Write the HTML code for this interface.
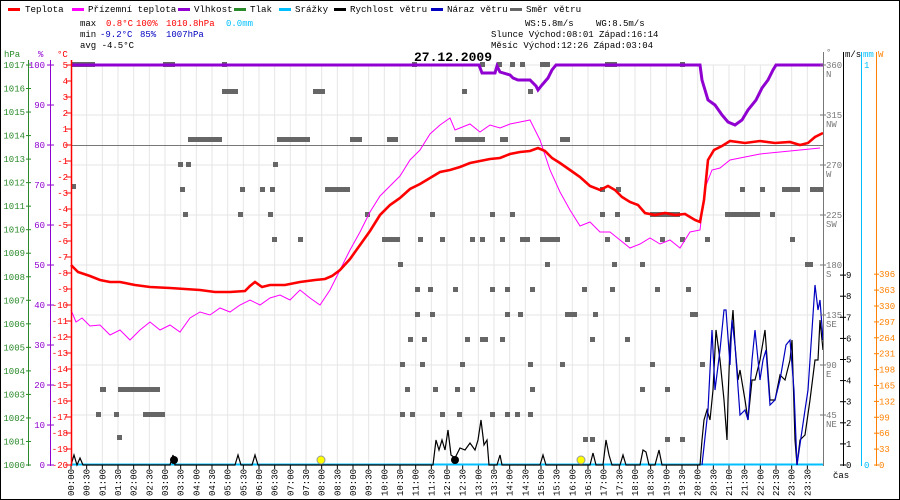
<!DOCTYPE html>
<html><head><meta charset="utf-8"><style>
body{margin:0;background:#fff}
svg{display:block;font-family:"Liberation Mono",monospace}
</style></head><body>
<svg width="900" height="500" viewBox="0 0 900 500" xmlns="http://www.w3.org/2000/svg">
<rect x="0.5" y="0.5" width="899" height="499" fill="#fff" stroke="#000"/>
<!-- legend -->
<g font-size="9.2" fill="#000">
<rect x="8" y="8" width="12" height="3" fill="#f00"/><text x="25" y="12">Teplota</text>
<rect x="72" y="8" width="12" height="3" fill="#f0f"/><text x="88" y="12">Přízemní teplota</text>
<rect x="178" y="8" width="12" height="3" fill="#9000d0"/><text x="194" y="12">Vlhkost</text>
<rect x="234" y="8" width="12" height="3" fill="#2a8a2a"/><text x="250" y="12">Tlak</text>
<rect x="279" y="8" width="12" height="3" fill="#00bfff"/><text x="295" y="12">Srážky</text>
<rect x="334" y="8" width="12" height="3" fill="#000"/><text x="350" y="12">Rychlost větru</text>
<rect x="431" y="8" width="12" height="3" fill="#0000c0"/><text x="447" y="12">Náraz větru</text>
<rect x="510" y="8" width="12" height="3" fill="#666"/><text x="526" y="12">Směr větru</text>
</g>
<g font-size="9">
<text x="80" y="26">max</text><text x="106" y="26" fill="#f00">0.8°C</text><text x="136" y="26" fill="#f00">100%</text><text x="166" y="26" fill="#f00">1010.8hPa</text><text x="226" y="26" fill="#00bfff">0.0mm</text>
<text x="80" y="37">min</text><text x="100" y="37" fill="#0000c0">-9.2°C</text><text x="140" y="37" fill="#0000c0">85%</text><text x="166" y="37" fill="#0000c0">1007hPa</text>
<text x="80" y="48">avg -4.5°C</text>
<text x="525" y="26">WS:5.8m/s</text><text x="596" y="26">WG:8.5m/s</text>
<text x="491" y="37">Slunce Východ:08:01  Západ:16:14</text>
<text x="491" y="48">Měsíc  Východ:12:26  Západ:03:04</text>
</g>
<text x="414" y="61" font-size="13" font-weight="bold">27.12.2009</text>
<g id="grid" stroke="#e6e6e6"></g>
<line x1="71" y1="145.5" x2="823" y2="145.5" stroke="#777"/>
<g id="dir" fill="#666"></g>
<!-- series -->
<polyline fill="none" stroke="#f0f" stroke-width="1" points="71,310 76,322 82,318 90,326 100,325 110,335 120,330 130,340 140,330 150,322 160,330 170,325 180,332 190,318 200,312 210,315 220,308 230,312 240,305 250,300 260,305 270,298 280,295 290,300 300,290 310,298 320,305 330,290 340,270 350,250 360,232 370,212 380,196 390,186 400,176 410,160 420,150 430,134 440,125 450,118 455,130 460,128 470,124 480,132 490,125 500,128 510,124 520,122 530,120 536,132 540,140 550,170 560,192 570,210 580,226 590,222 600,232 610,232 620,240 630,248 640,244 650,238 660,244 670,240 680,248 690,232 700,230 705,188 712,170 720,168 730,160 740,158 760,154 780,152 800,150 820,148"/>
<polyline fill="none" stroke="#f00" stroke-width="2.6" points="71,265 78,272 90,276 100,280 110,282 120,282 135,285 150,287 170,288 200,290 215,292 230,292 245,291 250,286 255,282 262,287 270,285 285,285 300,282 315,280 325,279 332,276 340,270 350,259 360,245 370,231 380,215 390,205 400,198 410,189 420,184 430,178 440,172 450,170 460,167 470,163 480,161 490,159 500,158 510,154 520,152 530,151 538,148 545,151 552,158 560,163 570,170 580,177 590,186 600,190 608,186 615,190 622,197 630,202 638,205 645,213 655,215 665,213 675,215 685,214 695,220 700,222 704,200 708,160 714,150 722,146 730,141 745,143 760,141 775,143 790,142 800,145 808,143 815,137 823,133"/>
<polyline fill="none" stroke="#9000d0" stroke-width="3" points="71,65 479,65 482,73 495,73 497,66 500,72 510,75 513,78 518,80 530,80 536,86 538,90 542,85 548,78 552,70 556,65 700,65 702,80 705,90 708,100 715,105 722,115 728,122 735,125 742,120 748,110 756,100 762,88 768,80 773,70 776,65 823,65"/>
<line x1="71" y1="464.5" x2="823" y2="464.5" stroke="#00bfff" stroke-width="2"/>
<polyline fill="none" stroke="#000" stroke-width="1.2" points="71,465 74,455 77,465 80,458 83,465 170,465 173,455 175,465 235,465 238,455 241,465 252,465 255,455 258,465 433,465 436,440 439,450 442,440 445,450 448,430 451,455 455,458 460,448 465,450 470,443 475,450 478,440 481,420 484,445 487,440 489,465 497,465 500,455 502,465 540,465 543,455 546,465 590,465 593,453 596,465 603,465 606,440 609,455 612,465 620,465 623,455 626,465 640,465 643,450 646,452 649,465 655,465 659,450 662,465 700,465 702,440 704,420 707,410 710,420 713,390 716,330 720,360 724,400 727,440 728,400 730,345 733,310 735,345 738,380 740,370 745,400 748,420 752,380 755,380 760,360 765,330 770,400 775,400 780,375 785,380 790,360 792,340 795,440 797,465 800,440 805,435 810,400 815,360 818,360 820,320 823,350"/>
<polyline fill="none" stroke="#0000c0" stroke-width="1.2" points="702,465 708,410 712,330 715,390 720,350 724,310 726,310 730,365 732,320 735,345 740,415 745,410 748,420 752,360 755,330 760,380 763,360 766,350 770,405 775,400 780,380 786,345 790,340 794,390 797,465 805,410 808,390 812,330 815,285 818,310 820,300 823,340"/>
<circle cx="174" cy="460" r="4" fill="#000"/><circle cx="455" cy="460" r="4" fill="#000"/>
<circle cx="321" cy="460" r="4" fill="#ff0" stroke="#999"/><circle cx="581" cy="460" r="4" fill="#ff0" stroke="#999"/>
<!-- axes -->
<line x1="28.5" y1="60" x2="28.5" y2="466" stroke="#2a8a2a"/>
<line x1="50.5" y1="60" x2="50.5" y2="466" stroke="#9000d0"/>
<line x1="71.5" y1="60" x2="71.5" y2="466" stroke="#f00" stroke-width="1.5"/>
<line x1="823.5" y1="52" x2="823.5" y2="466" stroke="#777"/>
<line x1="843.5" y1="52" x2="843.5" y2="466" stroke="#000"/>
<line x1="861.5" y1="52" x2="861.5" y2="466" stroke="#00bfff"/>
<line x1="876.5" y1="52" x2="876.5" y2="466" stroke="#ff8000"/>
<g font-size="9">
<text x="4" y="57" fill="#2a8a2a">hPa</text><text x="38" y="57" fill="#9000d0">%</text><text x="57" y="57" fill="#f00">°C</text>
<text x="826" y="55" fill="#777">°</text><text x="845" y="57">m/s</text><text x="863" y="57" fill="#00bfff">mm</text><text x="878" y="57" fill="#ff8000">W</text>
<text x="833" y="478">čas</text>
</g>
<g id="ax" font-size="9"></g>
<g id="xl" font-size="9"></g>
<script>
var ns="http://www.w3.org/2000/svg";
function el(p,t,a,txt){var e=document.createElementNS(ns,t);for(var k in a)e.setAttribute(k,a[k]);if(txt!==undefined)e.textContent=txt;document.getElementById(p).appendChild(e);return e;}
for(var i=0;i<48;i++){var x=71+i*15.667;if(i>0)el("grid","line",{x1:x,y1:65,x2:x,y2:465});
var h=Math.floor(i/2),m=i%2?"30":"00";var lb=(h<10?"0":"")+h+":"+m;
el("grid","line",{x1:x,y1:465,x2:x,y2:469,stroke:"#000"});
el("xl","text",{x:0,y:0,transform:"translate("+(x+3)+",496) rotate(-90)"},lb);}
for(var j=0;j<8;j++){el("grid","line",{x1:71,y1:65+j*50,x2:823,y2:65+j*50});}
for(var t=5;t>=-20;t--){var y=145-16*t;el("ax","text",{x:68,y:y+3,"text-anchor":"end",fill:"#f00"},t);el("ax","line",{x1:66,y1:y,x2:71,y2:y,stroke:"#f00"});}
for(var p=0;p<=17;p++){var y=465-p*23.53;el("ax","text",{x:25,y:y+3,"text-anchor":"end",fill:"#2a8a2a"},1000+p);el("ax","line",{x1:26,y1:y,x2:31,y2:y,stroke:"#2a8a2a"});}
for(var q=0;q<=10;q++){var y=465-q*40;el("ax","text",{x:45,y:y+3,"text-anchor":"end",fill:"#9000d0"},q*10);el("ax","line",{x1:47,y1:y,x2:54,y2:y,stroke:"#9000d0"});}
var dn=["","NE","E","SE","S","SW","W","NW","N"];
for(var d=1;d<=8;d++){var y=465-d*50;el("ax","text",{x:826,y:y+3,fill:"#777"},d*45);el("ax","text",{x:826,y:y+12,fill:"#777"},dn[d]);el("ax","line",{x1:820,y1:y,x2:826,y2:y,stroke:"#777"});}
for(var s=0;s<=9;s++){var y=465-s*21.1;el("ax","text",{x:846,y:y+3},s);el("ax","line",{x1:840,y1:y,x2:846,y2:y,stroke:"#000"});}
el("ax","text",{x:864,y:468,fill:"#00bfff"},"0");el("ax","text",{x:864,y:68,fill:"#00bfff"},"1");
for(var w=0;w<=12;w++){var y=465-w*15.9;el("ax","text",{x:879,y:y+3,fill:"#ff8000"},w*33);el("ax","line",{x1:874,y1:y,x2:879,y2:y,stroke:"#ff8000"});}
var sq=[[71,65,24],[163,65,12],[222,65,5],[412,65,5],[480,65,5],[497,65,5],[510,65,5],[520,65,5],[540,65,10],[605,65,12],[680,65,5],
[222,92,16],[313,92,12],[462,92,5],[528,92,5],
[188,140,34],[277,140,33],[350,140,12],[387,140,11],[455,140,30],[500,140,8],[560,140,10],
[178,165,4],[186,165,4],[273,165,4],[71,187,4],
[180,190,4],[240,190,4],[260,190,4],[270,190,4],[325,190,25],[600,190,4],[616,190,4],[740,190,4],[760,190,4],[782,190,18],[810,190,13],
[183,215,4],[238,215,4],[268,215,4],[365,215,4],[430,215,4],[490,215,4],[510,215,4],[600,215,4],[615,215,4],[650,215,30],[725,215,35],[770,215,4],
[272,240,4],[298,240,4],[382,240,18],[418,240,4],[440,240,4],[470,240,4],[480,240,4],[500,240,4],[520,240,10],[540,240,20],[605,240,4],[625,240,4],[660,240,4],[680,240,4],[705,240,4],[790,240,4],
[398,265,4],[545,265,4],[612,265,4],[640,265,4],[805,265,8],
[415,290,4],[428,290,4],[453,290,4],[490,290,4],[505,290,4],[530,290,4],[582,290,4],[610,290,4],[655,290,4],[686,290,4],
[565,315,12],[415,315,4],[430,315,4],[505,315,4],[518,315,4],[593,315,4],[690,315,8],
[408,340,4],[422,340,4],[465,340,4],[480,340,8],[500,340,4],[590,340,4],[625,340,4],
[100,390,6],[118,390,25],[130,390,30],[400,365,4],[420,365,4],[460,365,4],[528,365,4],[560,365,4],[650,365,4],[700,365,4],
[96,415,4],[114,415,4],[143,415,22],[405,390,4],[433,390,4],[455,390,4],[470,390,4],[530,390,4],[640,390,4],[665,390,4],
[117,438,4],[400,415,4],[410,415,4],[440,415,4],[457,415,4],[490,415,4],[505,415,4],[515,415,4],[528,415,4],[583,440,4],[590,440,4],[665,440,4],[680,440,4]];
sq.forEach(function(s){el("dir","rect",{x:s[0],y:s[1]-3,width:Math.max(s[2],5),height:5});});
</script>
</svg>
</body></html>
